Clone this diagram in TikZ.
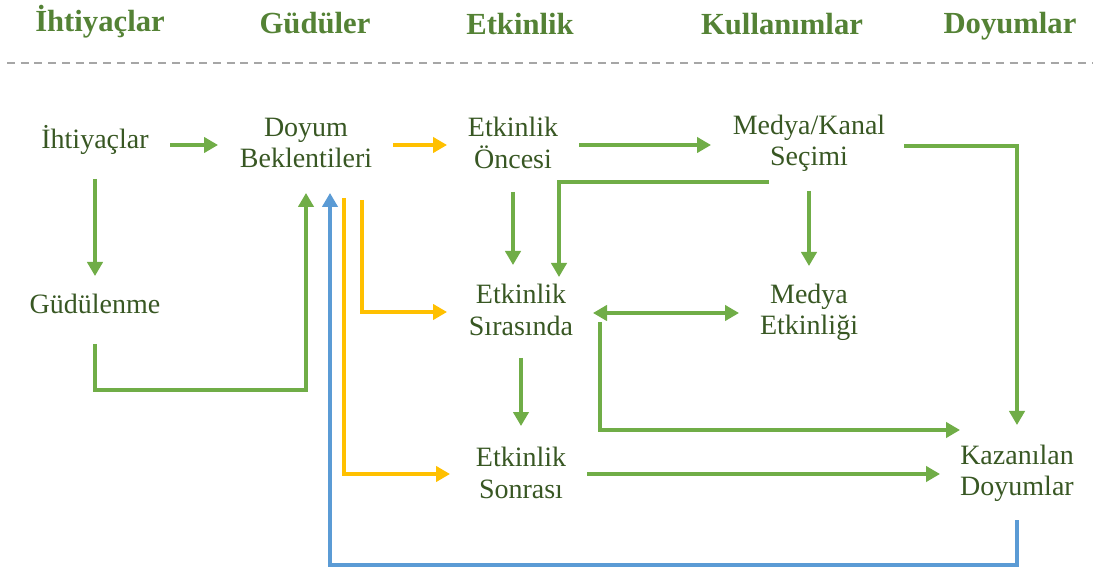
\documentclass[tikz,border=0pt]{standalone}
\usepackage{fontspec}
\setmainfont{Liberation Serif}
\usetikzlibrary{arrows.meta,calc}
\definecolor{hdr}{HTML}{548235}
\definecolor{txt}{HTML}{385723}
\definecolor{ag}{HTML}{70AD47}
\definecolor{ay}{HTML}{FFC000}
\definecolor{ab}{HTML}{5B9BD5}
\definecolor{dl}{HTML}{A6A6A6}
\begin{document}
\begin{tikzpicture}[x=0.75pt,y=-0.75pt,
  hd/.style={font=\fontsize{23}{26}\selectfont\bfseries,text=hdr,inner sep=0pt,anchor=base},
  bx/.style={font=\fontsize{21}{23.5}\selectfont,text=txt,inner sep=0pt,align=center},
  conn/.style={line width=2.4pt,-{Triangle[width=11.5pt,length=10.5pt]}},
  garr/.style={conn,draw=ag},
  yarr/.style={conn,draw=ay},
  barr/.style={conn,draw=ab},
  dbl/.style={line width=2.4pt,draw=ag,{Triangle[width=11.5pt,length=10.5pt]}-{Triangle[width=11.5pt,length=10.5pt]}}]
\useasboundingbox (0,0) rectangle (1093,570);
% headers
\node[hd] (h1) at (100,32) {İhtiyaçlar};
\node[hd] (h2) at (315,34) {Güdüler};
\node[hd] (h3) at (520,35) {Etkinlik};
\node[hd] (h4) at (782,35) {Kullanımlar};
\node[hd] (h5) at (1010,34) {Doyumlar};
\coordinate (dlA) at (7,63);
\coordinate (dlB) at (1093,63);
\draw[dl,line width=1.5pt,dash pattern=on 6pt off 4.3pt] (dlA) -- (dlB);
% nodes
\node[bx] (ihti) at (95,140) {İhtiyaçlar};
\node[bx] (gud) at (95,304) {Güdülenme};
\node[bx] (doyum) at (306,143) {Doyum\\Beklentileri};
\node[bx] (onc) at (513,143) {Etkinlik\\Öncesi};
\node[bx] (medk) at (809,143) {Medya/Kanal\\Seçimi};
\node[bx] (sir) at (521,310) {Etkinlik\\Sırasında};
\node[bx] (mede) at (809,312) {Medya\\Etkinliği};
\node[bx] (son) at (521,473) {Etkinlik\\Sonrası};
\node[bx] (kaz) at (1017,473) {Kazanılan\\Doyumlar};
% connectors
\draw[garr] ($(ihti)+(75,5)$) -- ($(doyum)+(-88,2)$);
\draw[garr] ($(ihti)+(0,39)$) -- ($(gud)+(0,-28)$);
\draw[garr] ($(gud)+(0,40)$) -- ($(gud)+(0,86)$) -| ($(doyum)+(0,50)$);
\draw[barr] ($(kaz)+(0,47)$) -- ($(kaz)+(0,92)$) -| ($(doyum)+(24,50)$);
\draw[yarr] ($(doyum)+(87,2)$) -- ($(onc)+(-66,2)$);
\draw[yarr] ($(doyum)+(56,57)$) |- ($(sir)+(-74,2)$);
\draw[yarr] ($(doyum)+(38,55)$) |- ($(son)+(-71,1)$);
\draw[garr] ($(onc)+(66,2)$) -- ($(medk)+(-98,2)$);
\draw[garr] ($(onc)+(0,49)$) -- ($(sir)+(-8,-45)$);
\draw[garr] ($(medk)+(-40,39)$) -| ($(sir)+(38,-33)$);
\draw[garr] ($(medk)+(0,48)$) -- ($(mede)+(0,-46)$);
\draw[garr] ($(medk)+(95,3)$) -| ($(kaz)+(0,-48)$);
\draw[dbl] ($(sir)+(72,3)$) -- ($(mede)+(-70,1)$);
\draw[garr] ($(sir)+(79,12)$) |- ($(kaz)+(-57,-43)$);
\draw[garr] ($(sir)+(0,48)$) -- ($(son)+(0,-47)$);
\draw[garr] ($(son)+(66,1)$) -- ($(kaz)+(-77,1)$);
\end{tikzpicture}
\end{document}
